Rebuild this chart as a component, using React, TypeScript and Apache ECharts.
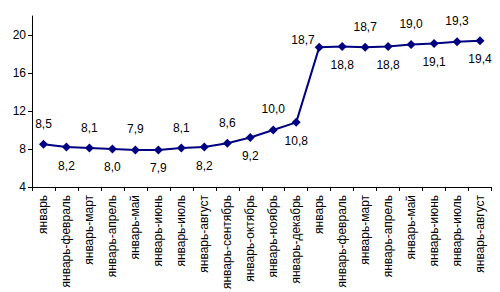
import React, { useEffect, useRef } from "react";
import * as echarts from "echarts";

const categories = [
  "январь", "январь-февраль", "январь-март", "январь-апрель", "январь-май", "январь-июнь",
  "январь-июль", "январь-август", "январь-сентябрь", "январь-октябрь", "январь-ноябрь", "январь-декабрь",
  "январь", "январь-февраль", "январь-март", "январь-апрель", "январь-май", "январь-июнь",
  "январь-июль", "январь-август",
];
const values = [8.5, 8.2, 8.1, 8.0, 7.9, 7.9, 8.1, 8.2, 8.6, 9.2, 10.0, 10.8, 18.7, 18.8, 18.7, 18.8, 19.0, 19.1, 19.3, 19.4];
const labelPositions = ["top", "bottom", "top", "bottom", "top", "bottom", "top", "bottom", "top", "bottom", "top", "bottom", "left", "bottom", "top", "bottom", "top", "bottom", "top", "bottom"];
const yTicks = [4, 8, 12, 16, 20];

export default function App() {
  const ref = useRef<HTMLDivElement>(null);
  useEffect(() => {
    if (!ref.current) return;
    const chart = echarts.init(ref.current, null, { renderer: "svg" });
    const font = "Arial, 'Liberation Sans', sans-serif";
    chart.setOption({
      animation: false,
      grid: { left: 32, right: 8.5, top: 16, bottom: 103, containLabel: false },
      xAxis: {
        type: "category",
        data: categories,
        boundaryGap: true,
        axisLine: { lineStyle: { color: "#000", width: 1 } },
        axisTick: { show: true, length: 4, inside: false, lineStyle: { color: "#000" } },
        axisLabel: { rotate: 90, interval: 0, fontSize: 12, color: "#000", fontFamily: font, margin: 8 },
      },
      yAxis: {
        type: "value",
        min: 4,
        max: 22,
        interval: 4,
        splitLine: { show: false },
        axisLine: { show: true, lineStyle: { color: "#000", width: 1 } },
        axisTick: { show: true, length: 4, customValues: yTicks, lineStyle: { color: "#000" } },
        axisLabel: { customValues: yTicks, fontSize: 12, color: "#000", fontFamily: font, margin: 6 },
      },
      series: [
        {
          type: "line",
          data: values.map((v, i) => {
            const pos = labelPositions[i];
            const label: any = { position: pos };
            if (pos === "left") {
              label.offset = [2, -7];
              label.distance = 2;
            } else if (pos === "top") {
              label.distance = 10;
            }
            return { value: v, label };
          }),
          symbol: "diamond",
          symbolSize: 9,
          lineStyle: { color: "#000080", width: 2 },
          itemStyle: { color: "#000080" },
          label: {
            show: true,
            fontSize: 12,
            color: "#000",
            fontFamily: font,
            distance: 8,
            formatter: (p: any) => Number(p.value).toFixed(1).replace(".", ","),
          },
        },
      ],
    });
    return () => chart.dispose();
  }, []);
  return <div ref={ref} style={{ width: 500, height: 292, position: "absolute", left: 0, top: 0, background: "#fff" }} />;
}
